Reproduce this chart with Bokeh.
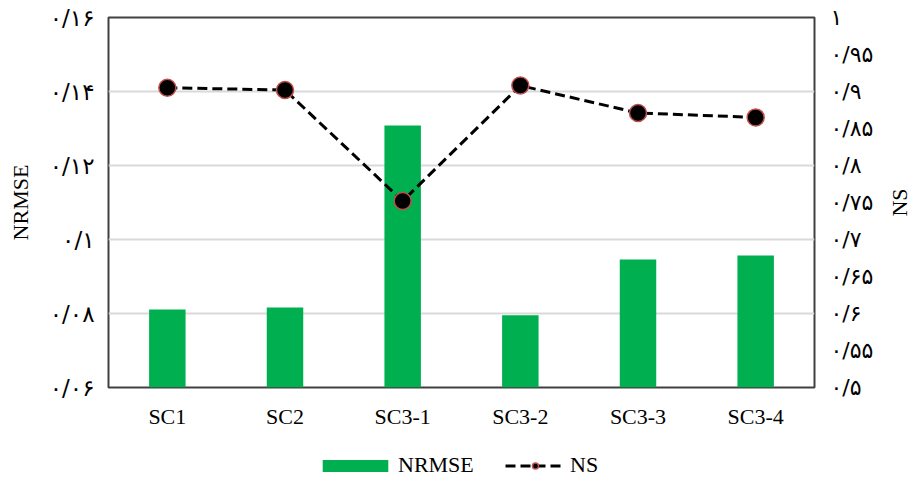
import math
from bokeh.plotting import figure
from bokeh.layouts import column, row
from bokeh.models import (Range1d, FactorRange, LinearAxis, FixedTicker,
                          CustomJSTickFormatter, Legend, LegendItem, Label)
from bokeh.embed import file_html
from bokeh.resources import INLINE

scenarios = ["SC1", "SC2", "SC3-1", "SC3-2", "SC3-3", "SC3-4"]
nrmse = [0.0811, 0.0816, 0.1308, 0.0795, 0.0946, 0.0957]
ns = [0.905, 0.902, 0.752, 0.908, 0.871, 0.865]

left_ticks = [0.06, 0.08, 0.10, 0.12, 0.14, 0.16]
left_labels = ["۰/۰۶", "۰/۰۸", "۰/۱", "۰/۱۲", "۰/۱۴", "۰/۱۶"]
right_ticks = [0.5, 0.55, 0.6, 0.65, 0.7, 0.75, 0.8, 0.85, 0.9, 0.95, 1.0]
right_labels = ["۰/۵", "۰/۵۵", "۰/۶", "۰/۶۵", "۰/۷", "۰/۷۵", "۰/۸", "۰/۸۵", "۰/۹", "۰/۹۵", "۱"]

SERIF = "Liberation Serif"
DIGITS = "DejaVu Sans"

BAR_STYLE = dict(fill_color="#00B050", line_color=None)
LINE_STYLE = dict(line_color="black", line_width=3, line_dash="10 5")
DOT_STYLE = dict(size=17, fill_color="black", line_color="#C0504D", line_width=1.5)

MAIN_W, SIDE_W = 884, 28

p = figure(x_range=scenarios, y_range=Range1d(0.06, 0.16), width=MAIN_W, height=435,
           output_backend="svg", toolbar_location=None,
           min_border_left=108, min_border_right=70, min_border_top=17, min_border_bottom=48)
p.extra_y_ranges = {"ns": Range1d(0.5, 1.0)}

p.background_fill_color = "white"
p.border_fill_color = "white"
p.outline_line_color = "#404040"
p.outline_line_width = 2
p.xgrid.grid_line_color = None
p.ygrid.grid_line_color = "#D9D9D9"
p.ygrid.grid_line_width = 2

p.vbar(x=scenarios, top=nrmse, bottom=0.06, width=0.31, **BAR_STYLE)
p.line(x=scenarios, y=ns, y_range_name="ns", **LINE_STYLE)
p.scatter(x=scenarios, y=ns, y_range_name="ns", **DOT_STYLE)

def style_y(ax, ticks, labels, size):
    ax.ticker = FixedTicker(ticks=ticks)
    ax.formatter = CustomJSTickFormatter(args=dict(t=ticks, l=labels), code="""
        for (let i = 0; i < t.length; i++) {
            if (Math.abs(t[i] - tick) < 1e-6) return l[i];
        }
        return "";
    """)
    ax.major_tick_line_color = None
    ax.minor_tick_line_color = None
    ax.axis_line_color = None
    ax.major_label_text_font = DIGITS
    ax.major_label_text_font_size = size
    ax.major_label_text_color = "black"

yl = p.yaxis[0]
style_y(yl, left_ticks, left_labels, "23px")
yl.major_label_standoff = 8
yl.axis_label = "NRMSE"
yl.axis_label_text_font = SERIF
yl.axis_label_text_font_style = "normal"
yl.axis_label_text_font_size = "22px"
yl.axis_label_text_color = "black"
yl.axis_label_standoff = 14

yr = LinearAxis(y_range_name="ns")
style_y(yr, right_ticks, right_labels, "22px")
yr.major_label_standoff = 10
p.add_layout(yr, "right")

xa = p.xaxis[0]
xa.major_tick_line_color = None
xa.minor_tick_line_color = None
xa.axis_line_color = None
xa.major_label_text_font = SERIF
xa.major_label_text_font_size = "22px"
xa.major_label_text_color = "black"
xa.major_label_standoff = 10

# Narrow strip on the right carrying the NS axis title, read bottom to top
side = figure(width=SIDE_W, height=435, x_range=Range1d(0, 1), y_range=Range1d(0.5, 1.0),
              output_backend="svg", toolbar_location=None,
              min_border=0, outline_line_color=None)
side.axis.visible = False
side.grid.visible = False
side.add_layout(Label(x=15, x_units="screen", y=0.75, text="NS", angle=math.pi / 2,
                      text_align="center", text_baseline="middle",
                      text_font=SERIF, text_font_size="22px", text_color="black"))

# Legend strip underneath the chart: the same series, plotted outside its view
# so that only their legend entries show.
leg = figure(width=MAIN_W + SIDE_W, height=45, x_range=FactorRange(*scenarios),
             y_range=Range1d(10, 11), output_backend="svg", toolbar_location=None,
             min_border=0, min_border_left=108, outline_line_color=None)
leg.axis.visible = False
leg.grid.visible = False
leg_bar = leg.vbar(x=scenarios, top=nrmse, bottom=0.06, width=0.31, **BAR_STYLE)
leg_line = leg.line(x=scenarios, y=ns, **LINE_STYLE)
leg_dot = leg.scatter(x=scenarios, y=ns, **dict(DOT_STYLE, size=13))

LEGEND_TEXT = dict(label_text_font=SERIF, label_text_font_size="22px",
                   label_text_color="black", border_line_color=None,
                   background_fill_alpha=0, padding=0, margin=0,
                   glyph_height=15, label_height=14)

legend_bar = Legend(items=[LegendItem(label="NRMSE", renderers=[leg_bar])],
                    location=(206, 2), glyph_width=82, label_standoff=2, **LEGEND_TEXT)
legend_ns = Legend(items=[LegendItem(label="NS", renderers=[leg_line, leg_dot])],
                   location=(397, 2), glyph_width=60, label_standoff=5, **LEGEND_TEXT)
leg.add_layout(legend_bar, "center")
leg.add_layout(legend_ns, "center")

open("out.html", "w").write(file_html(column(row(p, side), leg), INLINE))
